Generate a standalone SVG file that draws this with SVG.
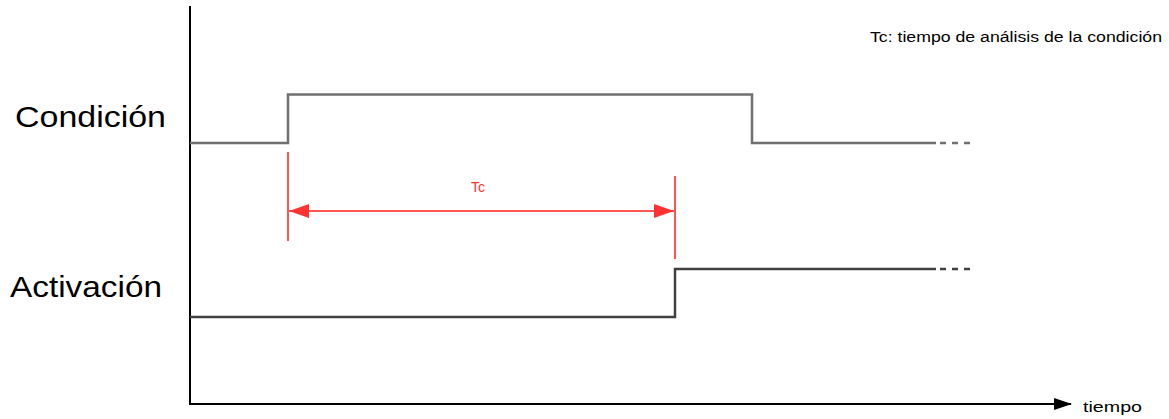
<svg xmlns="http://www.w3.org/2000/svg" width="1169" height="419" viewBox="0 0 1169 419">
  <style>
    .label { font-family: "Liberation Sans", Arial, sans-serif; fill: #000; }
    .big { font-size: 30px; }
    .small { font-size: 14px; }
    .sig { fill: none; stroke-width: 2.5; stroke-linejoin: miter; }
    .cond { stroke: #707070; }
    .act { stroke: #404040; }
    .dash { fill: none; stroke-width: 2.5; stroke-dasharray: 6 6; }
    .axis { fill: none; stroke: #000; stroke-width: 2; }
    .red { stroke: #ff5555; stroke-width: 2; fill: none; }
  </style>
  <defs>
    <marker id="axisHead" markerWidth="18" markerHeight="12" refX="17" refY="6" orient="auto" markerUnits="userSpaceOnUse">
      <path d="M0,0 L18,6 L0,12 Z" fill="#000"/>
    </marker>
    <marker id="redHead" markerWidth="20" markerHeight="14" refX="20" refY="7" orient="auto-start-reverse" markerUnits="userSpaceOnUse">
      <path d="M0,0 L20,7 L0,14 Z" fill="#ff3333"/>
    </marker>
  </defs>
  <rect width="1169" height="419" fill="#fff"/>

  <g id="axes">
    <line class="axis" x1="190" y1="6" x2="190" y2="404"/>
    <line class="axis" x1="189" y1="404" x2="1071" y2="404" marker-end="url(#axisHead)"/>
    <text class="label small" x="1083" y="412" textLength="59" lengthAdjust="spacingAndGlyphs">tiempo</text>
  </g>

  <g id="legend">
    <text class="label small" x="870" y="42" textLength="292" lengthAdjust="spacingAndGlyphs">Tc: tiempo de análisis de la condición</text>
  </g>

  <g id="condicion">
    <text class="label big" x="15" y="127" textLength="151" lengthAdjust="spacingAndGlyphs">Condición</text>
    <polyline class="sig cond" points="190,143 288,143 288,94.5 752,94.5 752,143 936,143"/>
    <line class="dash cond" x1="940" y1="143" x2="972" y2="143"/>
  </g>

  <g id="activacion">
    <text class="label big" x="10" y="297" textLength="152" lengthAdjust="spacingAndGlyphs">Activación</text>
    <polyline class="sig act" points="190,317 675,317 675,269 936,269"/>
    <line class="dash act" x1="940" y1="269" x2="972" y2="269"/>
  </g>

  <g id="connectors">
    <line class="red" x1="288" y1="152" x2="288" y2="241"/>
    <line class="red" x1="675" y1="176" x2="675" y2="259"/>
    <line class="red" x1="289" y1="211" x2="674" y2="211" marker-start="url(#redHead)" marker-end="url(#redHead)"/>
    <text x="478" y="192" font-family="Liberation Sans, Arial, sans-serif" font-size="14" fill="#ff3333" text-anchor="middle">Tc</text>
  </g>
</svg>
